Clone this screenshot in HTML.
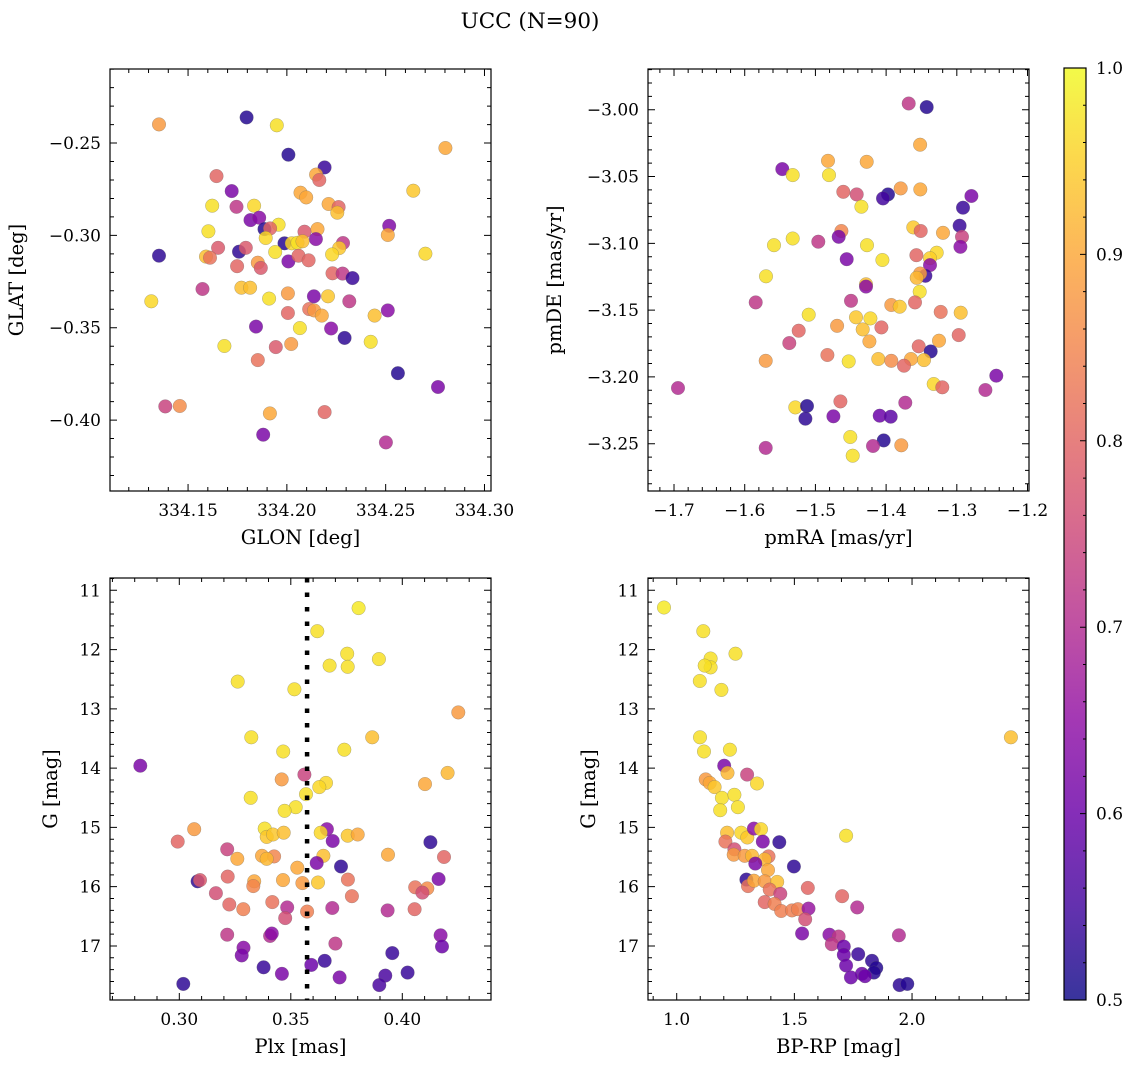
<!DOCTYPE html>
<html><head><meta charset="utf-8">
<style>
html,body{margin:0;padding:0;background:#fff;}
svg{display:block;font-family:"DejaVu Serif","Liberation Serif",serif;}
</style></head>
<body>
<svg id="fig" width="1136" height="1068" viewBox="0 0 1136 1068" xmlns="http://www.w3.org/2000/svg">
<defs>
<linearGradient id="plasma" x1="0" y1="1" x2="0" y2="0">
<stop offset="0" stop-color="#0d0887"/><stop offset="0.1" stop-color="#41049d"/><stop offset="0.2" stop-color="#6a00a8"/><stop offset="0.3" stop-color="#8f0da4"/><stop offset="0.4" stop-color="#b12a90"/><stop offset="0.5" stop-color="#cc4778"/><stop offset="0.6" stop-color="#e16462"/><stop offset="0.7" stop-color="#f2844b"/><stop offset="0.8" stop-color="#fca636"/><stop offset="0.9" stop-color="#fcce25"/><stop offset="1" stop-color="#f0f921"/>
</linearGradient>
</defs>
<text x="530" y="28" font-size="21.5" text-anchor="middle">UCC (N=90)</text>
</svg>
<script>
// ---- Panel 1: GLON vs GLAT ----
const p1Glon=[334.1353,334.1796,334.1949,334.2802,334.2008,334.2191,334.2148,334.2164,334.1644,334.1721,334.2069,334.2098,334.264,334.1622,334.1745,334.1834,334.2211,334.2262,334.2255,334.1816,334.186,334.1958,334.1603,334.1887,334.1915,334.1893,334.2089,334.2155,334.2147,334.1988,334.2025,334.2054,334.2079,334.2284,334.2265,334.2518,334.2511,334.2701,334.1353,334.1652,334.1758,334.1792,334.1591,334.1611,334.1941,334.2008,334.2059,334.211,334.2229,334.1748,334.1853,334.1868,334.2231,334.2282,334.2332,334.1573,334.1314,334.177,334.1814,334.191,334.2005,334.2137,334.2208,334.2316,334.2005,334.2113,334.2138,334.2177,334.2444,334.2511,334.1844,334.2066,334.2224,334.2292,334.2424,334.1684,334.1944,334.2022,334.1853,334.2562,334.2765,334.1385,334.1458,334.1914,334.2191,334.188,334.2501];
const p1Glat=[-0.2399,-0.2361,-0.2404,-0.2527,-0.2563,-0.2632,-0.2671,-0.2700,-0.2679,-0.2760,-0.2769,-0.2794,-0.2758,-0.2839,-0.2845,-0.2839,-0.2830,-0.2847,-0.2877,-0.2917,-0.2904,-0.2942,-0.2978,-0.2966,-0.2962,-0.3014,-0.2980,-0.2966,-0.3020,-0.3043,-0.3043,-0.3040,-0.3032,-0.3041,-0.3069,-0.2948,-0.2998,-0.3099,-0.3110,-0.3067,-0.3088,-0.3067,-0.3115,-0.3121,-0.3090,-0.3141,-0.3110,-0.3135,-0.3103,-0.3167,-0.3148,-0.3176,-0.3205,-0.3207,-0.3231,-0.3290,-0.3357,-0.3283,-0.3283,-0.3342,-0.3314,-0.3330,-0.3330,-0.3357,-0.3420,-0.3399,-0.3406,-0.3434,-0.3434,-0.3406,-0.3494,-0.3502,-0.3504,-0.3555,-0.3576,-0.3599,-0.3605,-0.3588,-0.3675,-0.3746,-0.3821,-0.3926,-0.3924,-0.3964,-0.3957,-0.4079,-0.4121];
const p1Prob=[.88,.52,.97,.9,.52,.54,.9,.8,.8,.62,.9,.9,.94,.97,.72,.96,.9,.8,.93,.62,.64,.97,.97,.52,.8,.96,.78,.9,.64,.52,.96,.97,.93,.72,.94,.63,.9,.96,.53,.78,.53,.78,.93,.82,.97,.62,.8,.8,.96,.8,.88,.78,.8,.72,.54,.72,.96,.93,.93,.97,.88,.62,.94,.72,.8,.82,.88,.9,.93,.64,.62,.97,.64,.53,.97,.97,.78,.88,.82,.52,.62,.74,.86,.9,.8,.62,.7];

// ---- Panel 2: pmRA vs pmDE ----
const p2PmRA=[-1.368,-1.3426,-1.352,-1.4822,-1.4275,-1.5468,-1.5322,-1.4808,-1.4605,-1.4416,-1.3973,-1.4044,-1.3794,-1.3516,-1.2794,-1.435,-1.2912,-1.296,-1.2926,-1.295,-1.3615,-1.3511,-1.3195,-1.4633,-1.4671,-1.5586,-1.5322,-1.4959,-1.427,-1.4558,-1.4053,-1.3572,-1.3285,-1.3379,-1.3379,-1.3445,-1.352,-1.3568,-1.3525,-1.4284,-1.4284,-1.5699,-1.5845,-1.4497,-1.3926,-1.3808,-1.3591,-1.3228,-1.2945,-1.5095,-1.4426,-1.4223,-1.4694,-1.4331,-1.4067,-1.5237,-1.5369,-1.4237,-1.3539,-1.3252,-1.2974,-1.337,-1.5703,-1.4831,-1.4529,-1.411,-1.3926,-1.3648,-1.3464,-1.3747,-1.6943,-1.3327,-1.3205,-1.2441,-1.2596,-1.4647,-1.3728,-1.5284,-1.5119,-1.5142,-1.4746,-1.4091,-1.3935,-1.4506,-1.4034,-1.4185,-1.3785,-1.4473,-1.5703];
const p2PmDE=[-2.9953,-2.998,-3.0262,-3.0382,-3.039,-3.0444,-3.0489,-3.0489,-3.0614,-3.0634,-3.0634,-3.0664,-3.0589,-3.0596,-3.0646,-3.0726,-3.0733,-3.0868,-3.0951,-3.1026,-3.0881,-3.0908,-3.0921,-3.0908,-3.0951,-3.1014,-3.0964,-3.0988,-3.1014,-3.1119,-3.1125,-3.1089,-3.107,-3.1111,-3.1163,-3.1243,-3.1226,-3.1258,-3.1362,-3.1307,-3.1324,-3.1247,-3.1442,-3.143,-3.1462,-3.1474,-3.1442,-3.1513,-3.1519,-3.1534,-3.1554,-3.1562,-3.1617,-3.1644,-3.1629,-3.1654,-3.1747,-3.1734,-3.1771,-3.1729,-3.1687,-3.1809,-3.1879,-3.1836,-3.1884,-3.1866,-3.1879,-3.1866,-3.1874,-3.1916,-3.2083,-3.2053,-3.2078,-3.1991,-3.2098,-3.2183,-3.2193,-3.2228,-3.2218,-3.2313,-3.2295,-3.229,-3.2298,-3.245,-3.2475,-3.2517,-3.2512,-3.259,-3.2531];
const p2Prob=[.72,.52,.9,.9,.9,.62,.97,.97,.8,.76,.52,.55,.88,.9,.62,.97,.54,.54,.74,.64,.94,.8,.9,.85,.62,.97,.97,.72,.97,.62,.97,.8,.96,.95,.64,.54,.88,.92,.97,.93,.64,.97,.72,.72,.88,.94,.8,.82,.93,.97,.94,.96,.88,.93,.8,.8,.74,.9,.8,.9,.8,.52,.88,.82,.97,.93,.86,.9,.93,.8,.7,.96,.8,.62,.7,.8,.7,.96,.52,.53,.62,.6,.58,.97,.52,.7,.88,.97,.7];

// ---- Panel 3: Plx vs G ----
const p3Plx=[0.3804,0.3619,0.3753,0.3755,0.3674,0.3895,0.3262,0.3516,0.4251,0.3323,0.3865,0.3466,0.374,0.2825,0.4203,0.3561,0.3459,0.4102,0.3658,0.3628,0.3568,0.332,0.3522,0.3472,0.3067,0.2993,0.3383,0.3392,0.342,0.3468,0.3662,0.3634,0.3688,0.3755,0.38,0.4126,0.3215,0.326,0.3371,0.3425,0.3392,0.3646,0.3936,0.4187,0.3616,0.3725,0.3529,0.3082,0.3093,0.3217,0.3336,0.3332,0.3465,0.3552,0.3622,0.3756,0.4163,0.4058,0.4112,0.409,0.3164,0.3774,0.3224,0.3287,0.3417,0.3484,0.3573,0.3686,0.3934,0.4055,0.3475,0.3215,0.3407,0.3415,0.37,0.4172,0.4178,0.3288,0.328,0.3955,0.3652,0.3592,0.3378,0.346,0.3719,0.3924,0.4024,0.3897,0.3018];
const p3G=[11.30,11.69,12.07,12.29,12.27,12.16,12.54,12.67,13.06,13.48,13.48,13.72,13.69,13.96,14.08,14.11,14.19,14.27,14.25,14.32,14.44,14.50,14.66,14.72,15.03,15.24,15.02,15.16,15.12,15.09,15.03,15.09,15.23,15.14,15.12,15.25,15.37,15.53,15.48,15.49,15.53,15.48,15.46,15.50,15.60,15.66,15.68,15.91,15.89,15.83,15.91,15.99,15.89,15.94,15.93,15.88,15.87,16.01,16.03,16.10,16.11,16.16,16.30,16.38,16.26,16.35,16.42,16.36,16.40,16.38,16.53,16.81,16.83,16.79,16.96,16.82,17.01,17.03,17.16,17.12,17.25,17.32,17.36,17.47,17.53,17.50,17.45,17.66,17.64];
const p3Prob=[.98,.97,.97,.97,.97,.97,.97,.97,.88,.97,.93,.97,.97,.62,.92,.74,.88,.9,.96,.96,.97,.97,.97,.97,.88,.8,.97,.94,.94,.93,.64,.96,.62,.94,.9,.53,.74,.9,.9,.85,.92,.93,.9,.8,.62,.53,.9,.53,.78,.8,.9,.85,.9,.88,.94,.82,.62,.82,.86,.76,.76,.82,.8,.84,.82,.7,.84,.7,.7,.8,.76,.72,.7,.64,.72,.64,.6,.64,.62,.54,.54,.6,.54,.62,.62,.56,.54,.56,.53];
const p3PlxLine=0.3573;

// ---- Panel 4: BP-RP vs G ----
const p4Color=[0.946,1.113,1.144,1.144,1.119,1.25,1.098,1.19,2.42,1.099,1.116,1.226,1.202,1.216,1.299,1.123,1.14,1.341,1.161,1.192,1.245,1.185,1.26,1.72,1.214,1.274,1.3,1.328,1.358,1.366,1.436,1.207,1.245,1.242,1.289,1.32,1.39,1.374,1.334,1.498,1.388,1.296,1.303,1.328,1.374,1.427,1.395,1.44,1.557,1.703,1.767,1.374,1.416,1.444,1.49,1.515,1.56,1.546,1.533,1.649,1.688,1.659,1.944,1.71,1.71,1.771,1.72,1.83,1.848,1.838,1.787,1.8,1.74,1.947,1.98];
const p4G=[11.29,11.69,12.15,12.30,12.27,12.07,12.53,12.68,13.48,13.48,13.72,13.69,13.96,14.08,14.11,14.19,14.25,14.26,14.32,14.50,14.45,14.71,14.66,15.14,15.09,15.09,15.17,15.02,15.03,15.24,15.25,15.24,15.37,15.46,15.48,15.48,15.49,15.54,15.61,15.66,15.72,15.88,15.99,15.90,15.91,15.92,16.05,16.12,16.02,16.16,16.35,16.26,16.29,16.41,16.40,16.38,16.37,16.55,16.79,16.81,16.84,16.97,16.82,17.01,17.15,17.14,17.33,17.25,17.37,17.45,17.47,17.51,17.53,17.66,17.64];
const p4Prob=[.98,.97,.97,.97,.97,.97,.97,.97,.93,.97,.97,.97,.62,.92,.74,.88,.9,.96,.94,.97,.97,.97,.97,.97,.93,.96,.94,.64,.96,.62,.53,.82,.76,.88,.88,.92,.82,.92,.62,.53,.9,.53,.82,.9,.88,.93,.82,.74,.8,.8,.7,.8,.84,.84,.84,.84,.66,.76,.62,.64,.72,.72,.7,.6,.6,.54,.6,.53,.52,.52,.6,.6,.6,.53,.52];

// colorbar ticks
const cbTicks=[0.5,0.6,0.7,0.8,0.9,1.0];

const NS="http://www.w3.org/2000/svg";
const svg=document.getElementById('fig');
const stops=[[0,13,8,135],[.1,65,4,157],[.2,106,0,168],[.3,143,13,164],[.4,177,42,144],[.5,204,71,120],[.6,225,100,98],[.7,242,132,75],[.8,252,166,54],[.9,252,206,37],[1,240,249,33]];
function plasma(p){
  let t=Math.max(0,Math.min(1,(p-0.5)/0.5));
  for(let i=0;i<stops.length-1;i++){
    const a=stops[i],b=stops[i+1];
    if(t<=b[0]){const f=(t-a[0])/(b[0]-a[0]);
      return 'rgb('+[1,2,3].map(k=>Math.round(a[k]+(b[k]-a[k])*f)).join(',')+')';}
  }
  return 'rgb(240,249,33)';
}
function mk(tag,attrs,parent){const e=document.createElementNS(NS,tag);for(const k in attrs)e.setAttribute(k,attrs[k]);(parent||svg).appendChild(e);return e;}
function fmt(v,d){let s=v.toFixed(d);return s.replace('-','\u2212');}

function panel(cfg,xs,ys,ps,name){
  const g=mk('g',{});
  
  
  const sx=v=>cfg.x0+(v-cfg.xmin)/(cfg.xmax-cfg.xmin)*(cfg.x1-cfg.x0);
  const sy=cfg.yinv?(v=>cfg.y0+(v-cfg.ymin)/(cfg.ymax-cfg.ymin)*(cfg.y1-cfg.y0)):(v=>cfg.y1-(v-cfg.ymin)/(cfg.ymax-cfg.ymin)*(cfg.y1-cfg.y0));
  const pts=mk('g',{},g);
  
  
  for(let i=0;i<xs.length;i++){
    const c=mk('circle',{cx:sx(xs[i]).toFixed(1),cy:sy(ys[i]).toFixed(1),r:6.8,fill:plasma(ps[i]),'fill-opacity':0.84,stroke:'#666','stroke-opacity':0.5,'stroke-width':0.5},pts);
    
    
  }
  if(cfg.vline!==undefined){
    const l=mk('line',{x1:sx(cfg.vline),x2:sx(cfg.vline),y1:cfg.y0,y2:cfg.y1,stroke:'#000','stroke-width':4.5,'stroke-dasharray':'4.5 10'},g);
    
    
  }
  const fr=mk('rect',{x:cfg.x0,y:cfg.y0,width:cfg.x1-cfg.x0,height:cfg.y1-cfg.y0,fill:'none',stroke:'#000','stroke-width':1.2},g);
  
  
  let d='';
  const eps=1e-9;
  for(let v=Math.ceil(cfg.xmin/cfg.xminor-eps)*cfg.xminor;v<=cfg.xmax+eps;v+=cfg.xminor){
    const X=sx(v);const isMaj=Math.abs(v/cfg.xmajor-Math.round(v/cfg.xmajor))<1e-4;const L=isMaj?7:4;
    d+=`M${X},${cfg.y1}v${-L}M${X},${cfg.y0}v${L}`;
    if(isMaj){const t=mk('text',{x:X,y:cfg.y1+25,'font-size':17,'text-anchor':'middle'},g);t.textContent=fmt(v,cfg.xdec);
      
      }
  }
  for(let v=Math.ceil(cfg.ymin/cfg.yminor-eps)*cfg.yminor;v<=cfg.ymax+eps;v+=cfg.yminor){
    const Y=sy(v);const isMaj=Math.abs(v/cfg.ymajor-Math.round(v/cfg.ymajor))<1e-4;const L=isMaj?7:4;
    d+=`M${cfg.x0},${Y}h${L}M${cfg.x1},${Y}h${-L}`;
    if(isMaj){const t=mk('text',{x:cfg.x0-9,y:Y+6,'font-size':17,'text-anchor':'end'},g);t.textContent=fmt(v,cfg.ydec);
      
      }
  }
  const tk=mk('path',{d:d,stroke:'#000','stroke-width':1,fill:'none'},g);
  
  
  const xl=mk('text',{x:(cfg.x0+cfg.x1)/2,y:cfg.y1+53,'font-size':19.5,'text-anchor':'middle'},g);xl.textContent=cfg.xlabel;
  
  
  const yx=cfg.ylx,yy=(cfg.y0+cfg.y1)/2;
  const yl=mk('text',{x:yx,y:yy,'font-size':19.5,'text-anchor':'middle',transform:`rotate(-90 ${yx} ${yy})`},g);yl.textContent=cfg.ylabel;
  
  
}

panel({x0:110,x1:491,y0:69,y1:491,xmin:334.1105,xmax:334.3033,ymin:-0.4384,ymax:-0.2099,xmajor:0.05,xminor:0.01,ymajor:0.05,yminor:0.01,xdec:2,ydec:2,xlabel:'GLON [deg]',ylabel:'GLAT [deg]',ylx:23},p1Glon,p1Glat,p1Prob,'panel-glon-glat');
panel({x0:648,x1:1029,y0:69,y1:491,xmin:-1.7368,xmax:-1.1979,ymin:-3.2854,ymax:-2.9695,xmajor:0.1,xminor:0.02,ymajor:0.05,yminor:0.01,xdec:1,ydec:2,xlabel:'pmRA [mas/yr]',ylabel:'pmDE [mas/yr]',ylx:561},p2PmRA,p2PmDE,p2Prob,'panel-proper-motion');
panel({x0:110,x1:491,y0:578,y1:1000,xmin:0.26892,xmax:0.43978,ymin:10.7925,ymax:17.912,yinv:true,xmajor:0.05,xminor:0.01,ymajor:1,yminor:0.2,xdec:2,ydec:0,xlabel:'Plx [mas]',ylabel:'G [mag]',ylx:57,vline:p3PlxLine},p3Plx,p3G,p3Prob,'panel-plx-g');
panel({x0:648,x1:1029,y0:578,y1:1000,xmin:0.878,xmax:2.497,ymin:10.7925,ymax:17.912,yinv:true,xmajor:0.5,xminor:0.1,ymajor:1,yminor:0.2,xdec:1,ydec:0,xlabel:'BP-RP [mag]',ylabel:'G [mag]',ylx:595},p4Color,p4G,p4Prob,'panel-cmd');

// colorbar
const cb=mk('g',{});


const cbx0=1064,cbx1=1086,cby0=68,cby1=1000;
const cbr=mk('rect',{x:cbx0,y:cby0,width:cbx1-cbx0,height:cby1-cby0,fill:'url(#plasma)','fill-opacity':0.82},cb);


const cbf=mk('rect',{x:cbx0,y:cby0,width:cbx1-cbx0,height:cby1-cby0,fill:'none',stroke:'#000','stroke-width':1.2},cb);


const cy=v=>cby1-(v-0.5)/0.5*(cby1-cby0);
let cd='';
for(let v=0.5;v<=1.0001;v+=0.02){const Y=cy(v);const maj=Math.abs(v*10-Math.round(v*10))<1e-4;cd+=`M${cbx1},${Y}h${maj?-6:-3}`;}
const cbt=mk('path',{d:cd,stroke:'#000','stroke-width':1},cb);


cbTicks.forEach(v=>{
  const t=mk('text',{x:cbx1+10,y:cy(v)+6,'font-size':17},cb);t.textContent=v.toFixed(1);
  
  
});
</script>
</body></html>
